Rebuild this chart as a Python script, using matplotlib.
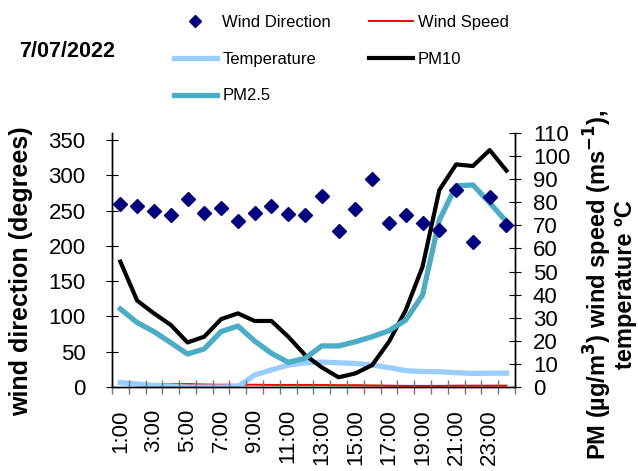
import numpy as np
import matplotlib
matplotlib.use('Agg')
import matplotlib.pyplot as plt
from matplotlib.lines import Line2D

plt.rcParams['font.family'] = ['Liberation Sans', 'DejaVu Sans']

# 数据
hours = [f'{h}:00' for h in range(1, 25)]
wind_direction = [259, 256, 249, 244, 266, 246, 254, 236, 246, 257, 245, 244,
                  271, 221, 253, 295, 233, 244, 233, 222, 279, 206, 269, 230]
wind_speed = [1.5, 1.4, 1.3, 1.2, 1.3, 1.1, 1.0, 1.0, 1.0, 0.9, 0.9, 0.9,
              0.9, 0.8, 0.8, 0.7, 0.6, 0.5, 0.5, 0.5, 0.6, 0.6, 0.6, 0.6]
temperature = [1.9, 1.3, 0.7, 0.3, 0.0, 0.0, 0.0, 0.2, 5.2, 7.4, 9.5, 10.5,
               10.8, 10.5, 10.2, 9.5, 8.4, 7.1, 6.7, 6.6, 6.2, 5.9, 6.0, 6.0]
pm10 = [54.3, 37.4, 31.9, 26.9, 19.3, 21.8, 29.4, 31.9, 28.6, 28.6, 21.8, 13.9,
        8.5, 4.2, 5.9, 9.5, 19.6, 33.3, 52.1, 85.3, 96.4, 95.7, 102.6, 93.7]
pm25 = [33.8, 27.9, 24.0, 19.2, 14.3, 16.5, 24.0, 26.4, 19.9, 14.6, 10.7, 12.4,
        17.8, 17.8, 19.6, 21.8, 24.4, 29.0, 39.8, 72.3, 87.1, 87.5, 79.8, 71.6]

x = np.arange(len(hours))

fig = plt.figure(figsize=(6.38, 4.71), dpi=100)
ax = fig.add_axes([0.1755, 0.1783, 0.6315, 0.5393])
ax2 = ax.twinx()

# 右轴：颗粒物、风速、温度
ax2.plot(x, wind_speed, color='#FF0000', lw=1.4, label='Wind Speed')
ax2.plot(x, temperature, color='#99CCFF', lw=3.8, label='Temperature')
ax2.plot(x, pm10, color='black', lw=3.0, label='PM10')
ax2.plot(x, pm25, color='#4BACC6', lw=3.8, label='PM2.5')

# 左轴：风向
ax.plot(x, wind_direction, ls='none', marker='D', ms=7, color='#000080',
        label='Wind Direction')
ax.set_zorder(ax2.get_zorder() + 1)
ax.patch.set_visible(False)

ax.set_xlim(-0.5, 23.5)
ax.set_ylim(0, 360)
ax2.set_ylim(0, 110)
ax.set_yticks(range(0, 351, 50))
ax2.set_yticks(range(0, 111, 10))

ax.set_xticks(x[::2])
ax.set_xticklabels(hours[::2], rotation=90)
ax.set_xticks(np.arange(-0.5, 24, 1), minor=True)
ax.tick_params(axis='x', which='major', length=0, labelsize=16, pad=16)
ax.tick_params(axis='x', which='minor', direction='inout', length=10,
               color='#777777', width=1)
ax.tick_params(axis='y', direction='inout', length=8, labelsize=16, pad=15)
ax2.tick_params(axis='y', direction='inout', length=8, labelsize=16, pad=9)

for a in (ax, ax2):
    a.spines['top'].set_visible(False)
    for s in ('left', 'right', 'bottom'):
        a.spines[s].set_linewidth(1.0)

ax.set_ylabel('wind direction (degrees)', fontsize=18, fontweight='bold')
ax.yaxis.set_label_coords(-0.195, 0.455)
fig.text(0.955, 0.395, 'PM (µg/m$^\\mathbf{3}$) wind speed (ms$^\\mathbf{-1}$),\ntemperature ºC',
         rotation=90, ha='center', va='center', multialignment='center',
         fontsize=17, fontweight='bold', linespacing=1.0)

fig.text(0.03, 0.89, '7/07/2022', fontsize=15.5, fontweight='bold',
         ha='left', va='center')

# 图例（按行排列）
h_wd = Line2D([], [], ls='none', marker='D', ms=6, color='#000080')
h_ws = Line2D([], [], color='#FF0000', lw=1.4)
h_t = Line2D([], [], color='#99CCFF', lw=3.8)
h_10 = Line2D([], [], color='black', lw=3.0)
h_25 = Line2D([], [], color='#4BACC6', lw=3.8)
fig.legend([h_wd, h_t, h_25, h_ws, h_10],
           ['Wind Direction', 'Temperature', 'PM2.5', 'Wind Speed', 'PM10'],
           ncol=2, loc='upper left', bbox_to_anchor=(0.262, 0.982),
           frameon=False, fontsize=12, handlelength=2.6, handletextpad=0.3,
           columnspacing=2.3, labelspacing=1.3, borderaxespad=0)

fig.savefig('out.png', dpi=100)
